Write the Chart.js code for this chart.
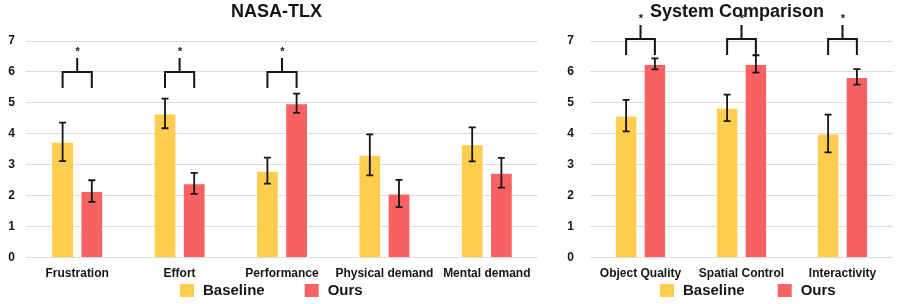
<!DOCTYPE html>
<html>
<head>
<meta charset="utf-8">
<script src="https://cdn.jsdelivr.net/npm/chart.js@4.4.1/dist/chart.umd.min.js"></script>
<style>
  html, body { margin: 0; padding: 0; background: #fff; overflow: hidden; }
  .box { position: absolute; top: 0; height: 304px; }
  #left { left: 0; width: 553px; }
  #right { left: 553px; width: 344px; }
</style>
</head>
<body>
<div class="box" id="left"><canvas id="chart-nasa"></canvas></div>
<div class="box" id="right"><canvas id="chart-sys"></canvas></div>
<script>
// NASA-TLX (lower is better)
var nasaLabels = ['Frustration', 'Effort', 'Performance', 'Physical demand', 'Mental demand'];
var nasaBaseline = [3.74, 4.66, 2.81, 3.32, 3.66];
var nasaBaselineErr = [0.62, 0.48, 0.42, 0.66, 0.55];
var nasaOurs = [2.15, 2.40, 4.99, 2.07, 2.74];
var nasaOursErr = [0.35, 0.34, 0.31, 0.44, 0.48];
var nasaSig = [true, true, true, false, false];
var nasaSigLevel = 6.0;

// System comparison
var sysLabels = ['Object Quality', 'Spatial Control', 'Interactivity'];
var sysBaseline = [4.59, 4.84, 4.01];
var sysBaselineErr = [0.51, 0.43, 0.61];
var sysOurs = [6.26, 6.26, 5.84];
var sysOursErr = [0.18, 0.28, 0.25];
var sysSig = [true, true, true];
var sysSigLevel = 7.05;

var yTicks = [0, 1, 2, 3, 4, 5, 6, 7];

var YELLOW = '#FFCE4E';
var RED = '#F96262';
var INK = '#151515';
var FONT = '"Liberation Sans", Arial, sans-serif';

// error bars + significance brackets + title + legend
var decorations = {
    id: 'decorations',
    afterDatasetsDraw: function (chart, args, opts) {
        var ctx = chart.ctx;
        var y = chart.scales.y;
        ctx.save();
        ctx.strokeStyle = INK;
        ctx.lineWidth = 1.8;
        chart.data.datasets.forEach(function (ds, di) {
            var meta = chart.getDatasetMeta(di);
            meta.data.forEach(function (bar, i) {
                var top = y.getPixelForValue(ds.data[i] + ds.err[i]);
                var bot = y.getPixelForValue(ds.data[i] - ds.err[i]);
                ctx.beginPath();
                ctx.moveTo(bar.x, top); ctx.lineTo(bar.x, bot);
                ctx.moveTo(bar.x - 3.5, top); ctx.lineTo(bar.x + 3.5, top);
                ctx.moveTo(bar.x - 3.5, bot); ctx.lineTo(bar.x + 3.5, bot);
                ctx.stroke();
            });
        });

        // brackets
        var m0 = chart.getDatasetMeta(0), m1 = chart.getDatasetMeta(1);
        ctx.lineWidth = 2;
        opts.sig.forEach(function (s, i) {
            if (!s) return;
            var x0 = m0.data[i].x, x1 = m1.data[i].x, xm = (x0 + x1) / 2;
            var yl = Math.round(y.getPixelForValue(opts.level));
            ctx.beginPath();
            ctx.moveTo(x0, yl + 16); ctx.lineTo(x0, yl); ctx.lineTo(x1, yl); ctx.lineTo(x1, yl + 16);
            ctx.moveTo(xm, yl); ctx.lineTo(xm, yl - 14);
            ctx.stroke();
            ctx.fillStyle = INK;
            ctx.font = 'bold 11px ' + FONT;
            ctx.textAlign = 'center';
            ctx.textBaseline = 'middle';
            ctx.fillText('*', xm + 0.5, yl - 20);
        });

        // title
        ctx.fillStyle = INK;
        ctx.font = 'bold 18px ' + FONT;
        ctx.textAlign = 'center';
        ctx.textBaseline = 'middle';
        ctx.fillText(opts.title, opts.titleX, 12);

        // legend
        ctx.font = 'bold 15px ' + FONT;
        ctx.textAlign = 'left';
        var lx = opts.legendX;
        chart.data.datasets.forEach(function (ds) {
            ctx.fillStyle = ds.backgroundColor;
            ctx.fillRect(lx, 284, 14, 13);
            ctx.fillStyle = INK;
            ctx.fillText(ds.label, lx + 23, 291);
            lx += 23 + ctx.measureText(ds.label).width + opts.legendGap;
        });
        ctx.restore();
    }
};

function makeChart(id, labels, base, baseErr, ours, oursErr, sig, level, cfg) {
    return new Chart(document.getElementById(id).getContext('2d'), {
        type: 'bar',
        data: {
            labels: labels,
            datasets: [{
                label: 'Baseline',
                data: base,
                err: baseErr,
                backgroundColor: YELLOW,
                borderColor: 'rgba(255,255,255,0.45)',
                borderWidth: 1
            }, {
                label: 'Ours',
                data: ours,
                err: oursErr,
                backgroundColor: RED,
                borderColor: 'rgba(255,255,255,0.45)',
                borderWidth: 1
            }]
        },
        options: {
            responsive: true,
            maintainAspectRatio: false,
            animation: false,
            categoryPercentage: 0.57,
            barPercentage: 0.78,
            layout: { padding: { top: 41, right: cfg.padRight, bottom: 14, left: 0 } },
            scales: {
                x: {
                    grid: { display: false, drawTicks: false },
                    border: { display: false },
                    ticks: { color: INK, font: { family: FONT, size: 12, weight: 'bold' }, padding: 9, maxRotation: 0, autoSkip: false }
                },
                y: {
                    min: 0,
                    max: 7,
                    afterFit: function (axis) { axis.width = cfg.axisWidth; },
                    afterBuildTicks: function (axis) {
                        axis.ticks = yTicks.map(function (v) { return { value: v }; });
                    },
                    grid: { color: '#dcdcdc', lineWidth: 1, drawTicks: false },
                    border: { display: false },
                    ticks: { color: INK, font: { family: FONT, size: 12, weight: 'bold' }, padding: cfg.tickPad }
                }
            },
            plugins: {
                legend: { display: false },
                title: { display: false },
                tooltip: { enabled: false },
                decorations: {
                    sig: sig,
                    level: level,
                    title: cfg.title,
                    titleX: cfg.titleX,
                    legendX: cfg.legendX,
                    legendGap: cfg.legendGap
                }
            }
        },
        plugins: [decorations]
    });
}

makeChart('chart-nasa', nasaLabels, nasaBaseline, nasaBaselineErr, nasaOurs, nasaOursErr, nasaSig, nasaSigLevel,
    { title: 'NASA-TLX', titleX: 276.5, legendX: 180, legendGap: 40, padRight: 15, axisWidth: 26, tickPad: 11 });
makeChart('chart-sys', sysLabels, sysBaseline, sysBaselineErr, sysOurs, sysOursErr, sysSig, sysSigLevel,
    { title: 'System Comparison', titleX: 184, legendX: 107, legendGap: 33, padRight: 4, axisWidth: 37, tickPad: 16 });
</script>
</body>
</html>
